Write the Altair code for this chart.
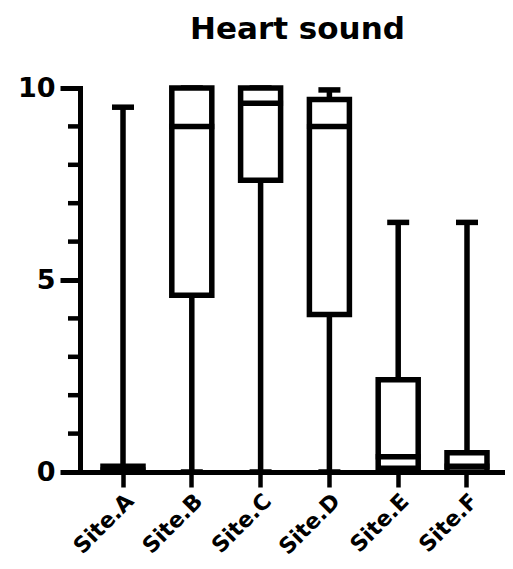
import altair as alt
import pandas as pd

sites = ["Site.A", "Site.B", "Site.C", "Site.D", "Site.E", "Site.F"]
mins = [0, 0, 0, 0, 0, 0]
q1s = [0, 4.6, 7.6, 4.1, 0.1, 0]
medians = [0.05, 9.0, 9.6, 9.0, 0.4, 0.15]
q3s = [0.15, 10.0, 10.0, 9.7, 2.4, 0.5]
maxs = [9.5, 10.0, 10.0, 9.95, 6.5, 6.5]
minor_ticks = [1, 2, 3, 4, 6, 7, 8, 9]
major_ticks = [0, 5, 10]

df = pd.DataFrame({"site": sites, "min": mins, "q1": q1s, "median": medians,
                   "q3": q3s, "max": maxs})
minor_df = pd.DataFrame({"v": minor_ticks})

FONT = "DejaVu Sans"
SW = 5.5

xscale = alt.Scale(domain=sites, paddingInner=0, paddingOuter=0.0887, align=0.705)
yscale = alt.Scale(domain=[0, 10], nice=False, zero=False)

xenc = alt.X("site:N", scale=xscale, sort=sites, title=None,
             axis=alt.Axis(labelAngle=-45, labelFont=FONT, labelFontWeight="bold",
                           labelFontSize=22, labelColor="black", tickSize=15,
                           tickWidth=4.5, tickColor="black", domainWidth=5,
                           domainColor="black", labelPadding=3, domainCap="square"))

base = alt.Chart(df)

whisker = base.mark_rule(color="black", strokeWidth=SW).encode(
    x=xenc,
    y=alt.Y("min:Q", scale=yscale, title=None,
            axis=alt.Axis(values=major_ticks, labelFont=FONT, labelFontWeight="bold",
                          labelFontSize=27, labelColor="black", tickSize=20,
                          tickWidth=5, tickColor="black", domainWidth=5,
                          domainColor="black", labelPadding=5, grid=False,
                          domainCap="square")),
    y2="max:Q",
)

box = base.mark_bar(size=40, fill="white", stroke="black", strokeWidth=SW).encode(
    x=alt.X("site:N", scale=xscale, sort=sites),
    y=alt.Y("q1:Q", scale=yscale),
    y2="q3:Q",
)

median = base.mark_tick(size=45, thickness=SW, color="black", opacity=1).encode(
    x=alt.X("site:N", scale=xscale, sort=sites),
    y=alt.Y("median:Q", scale=yscale),
)

cap_max = base.mark_tick(size=22, thickness=SW, color="black", opacity=1).encode(
    x=alt.X("site:N", scale=xscale, sort=sites),
    y=alt.Y("max:Q", scale=yscale),
)

cap_min = base.mark_tick(size=22, thickness=SW, color="black", opacity=1).encode(
    x=alt.X("site:N", scale=xscale, sort=sites),
    y=alt.Y("min:Q", scale=yscale),
)

minor = alt.Chart(minor_df).mark_rule(color="black", strokeWidth=4.5).encode(
    y=alt.Y("v:Q", scale=yscale),
    x=alt.value(-12),
    x2=alt.value(0),
)

chart = alt.layer(whisker, cap_max, cap_min, box, median, minor).properties(
    width=425,
    height=384,
    autosize=alt.AutoSizeParams(type="none"),
    padding={"left": 72, "top": 80, "right": 0, "bottom": 89},
    title=alt.TitleParams("Heart sound", font=FONT, fontSize=31, fontWeight="bold",
                          color="black", anchor="middle", frame="group",
                          baseline="alphabetic", offset=4, dx=5),
).configure_view(stroke=None)

chart.save("out.html", embed_options={"renderer": "svg", "actions": False})
